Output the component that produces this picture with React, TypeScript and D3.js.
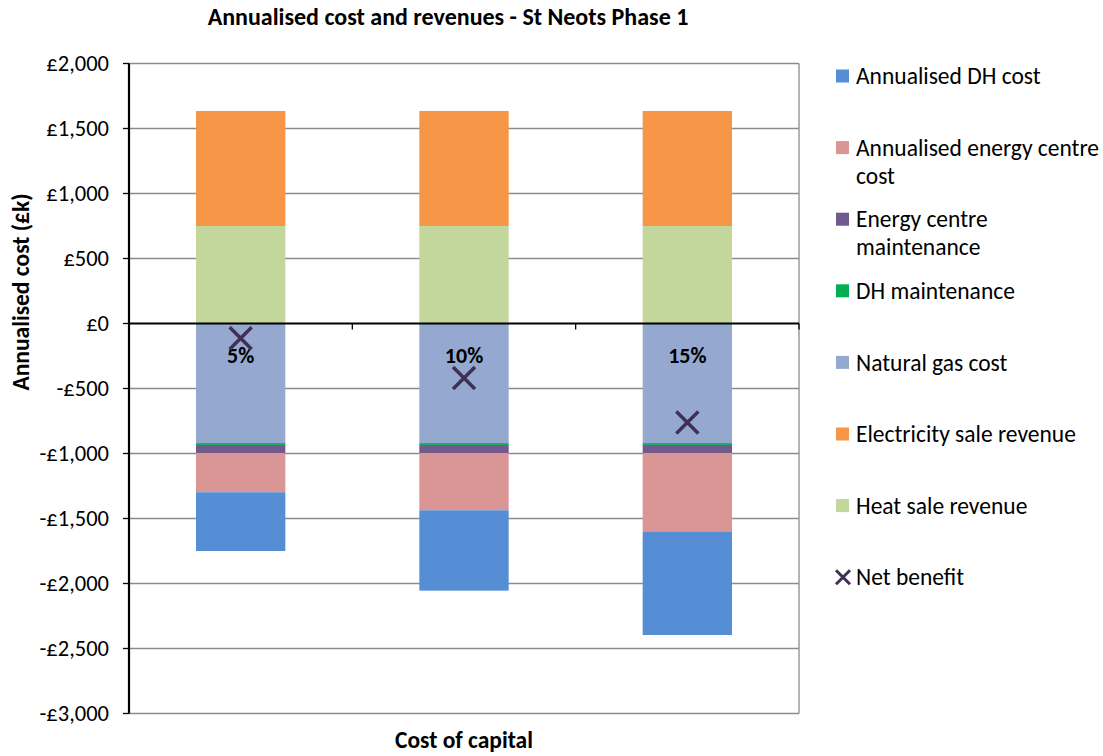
import React from "react";
import * as d3 from "d3";

const categories = ["5%", "10%", "15%"];
const annualisedDHCost = [-452, -618, -797];
const annualisedECCost = [-302, -441, -603];
const ecMaintenance = [-62, -62, -62];
const dhMaintenance = [-14, -14, -14];
const naturalGasCost = [-920, -920, -920];
const electricityRevenue = [885, 885, 885];
const heatRevenue = [750, 750, 750];
const netBenefit = [-113, -420, -761];
const yTicks = [2000, 1500, 1000, 500, 0, -500, -1000, -1500, -2000, -2500, -3000];

const negSeries = [
  { name: "Natural gas cost", values: naturalGasCost, color: "#95A9D0" },
  { name: "DH maintenance", values: dhMaintenance, color: "#00B050" },
  { name: "Energy centre maintenance", values: ecMaintenance, color: "#71588F" },
  { name: "Annualised energy centre cost", values: annualisedECCost, color: "#D99694" },
  { name: "Annualised DH cost", values: annualisedDHCost, color: "#558ED5" },
];
const posSeries = [
  { name: "Heat sale revenue", values: heatRevenue, color: "#C3D69B" },
  { name: "Electricity sale revenue", values: electricityRevenue, color: "#F79646" },
];

const legendItems = [
  { lines: ["Annualised DH cost"], color: "#558ED5" },
  { lines: ["Annualised energy centre", "cost"], color: "#D99694" },
  { lines: ["Energy centre", "maintenance"], color: "#71588F" },
  { lines: ["DH maintenance"], color: "#00B050" },
  { lines: ["Natural gas cost"], color: "#95A9D0" },
  { lines: ["Electricity sale revenue"], color: "#F79646" },
  { lines: ["Heat sale revenue"], color: "#C3D69B" },
  { lines: ["Net benefit"], color: null },
];

const FONT = "Carlito, Calibri, 'Open Sans', sans-serif";

export default function App() {
  const W = 1103, H = 756;
  const left = 129, right = 799, top = 63.5, bottom = 713.5;
  const y = d3.scaleLinear().domain([-3000, 2000]).range([bottom, top]);
  const x = d3.scaleBand().domain(categories).range([left, right]).paddingInner(0.6).paddingOuter(0.3);
  const xc = d3.scaleBand().domain(categories).range([left, right]);
  const y0 = y(0);

  const rects: any[] = [];
  categories.forEach((c, i) => {
    let acc = 0;
    negSeries.forEach((s) => {
      const v = s.values[i];
      const a = acc, b = acc + v;
      rects.push(<rect key={s.name + c} x={x(c)} width={x.bandwidth()} y={y(a)} height={y(b) - y(a)} fill={s.color} />);
      acc = b;
    });
    acc = 0;
    posSeries.forEach((s) => {
      const v = s.values[i];
      const a = acc, b = acc + v;
      rects.push(<rect key={s.name + c} x={x(c)} width={x.bandwidth()} y={y(b)} height={y(a) - y(b)} fill={s.color} />);
      acc = b;
    });
  });

  const cross = (cx: number, cy: number, s: number, w: number, key: string) => (
    <g key={key} stroke="#3F3054" strokeWidth={w} strokeLinecap="butt">
      <line x1={cx - s} y1={cy - s} x2={cx + s} y2={cy + s} />
      <line x1={cx - s} y1={cy + s} x2={cx + s} y2={cy - s} />
    </g>
  );

  return (
    <svg width={W} height={H} style={{ position: "absolute", left: 0, top: 0, background: "#fff" }} fontFamily={FONT}>
      <text x={448} y={25} textAnchor="middle" fontSize={24} fontWeight="bold" fill="#000">
        Annualised cost and revenues - St Neots Phase 1
      </text>
      {yTicks.map((t) => (
        <g key={t}>
          {t !== 0 && <line x1={left} x2={right} y1={y(t)} y2={y(t)} stroke="#8C8C8C" strokeWidth={1.3} />}
          <line x1={left - 6} x2={left} y1={y(t)} y2={y(t)} stroke="#000" strokeWidth={1.3} />
          <text x={109} y={y(t)} dy="0.35em" textAnchor="end" fontSize={22.5} fill="#000">
            {(t < 0 ? "-£" : "£") + d3.format(",")(Math.abs(t))}
          </text>
        </g>
      ))}
      <line x1={right} x2={right} y1={top} y2={bottom} stroke="#8C8C8C" strokeWidth={1.3} />
      {rects}
      <line x1={left} x2={right} y1={y0} y2={y0} stroke="#000" strokeWidth={2.2} />
      {categories.map((c) => (
        <line key={"ct" + c} x1={xc(c)! + xc.bandwidth()} x2={xc(c)! + xc.bandwidth()} y1={y0} y2={y0 + 6} stroke="#000" strokeWidth={1.3} />
      ))}
      <line x1={left} x2={left} y1={top} y2={bottom} stroke="#000" strokeWidth={2.2} />
      {categories.map((c) => (
        <text key={"lbl" + c} x={x(c)! + x.bandwidth() / 2} y={y0 + 32} dy="0.35em" textAnchor="middle" fontSize={22} fontWeight="bold" fill="#000">
          {c}
        </text>
      ))}
      {categories.map((c, i) => cross(x(c)! + x.bandwidth() / 2, y(netBenefit[i]), 11, 3.5, "nb" + c))}
      <text transform={`translate(29,${292}) rotate(-90)`} textAnchor="middle" fontSize={23.5} fontWeight="bold" fill="#000">
        Annualised cost (£k)
      </text>
      <text x={464} y={748} textAnchor="middle" fontSize={23.5} fontWeight="bold" fill="#000">
        Cost of capital
      </text>
      {legendItems.map((it, i) => {
        const ly = 76 + i * 71.6;
        return (
          <g key={"lg" + i}>
            {it.color ? (
              <rect x={836} y={ly - 6.5} width={13} height={13} fill={it.color} />
            ) : (
              cross(843, ly, 7, 3, "lgx")
            )}
            {it.lines.map((ln, j) => (
              <text key={j} x={856} y={ly + j * 28} dy="0.35em" fontSize={23.5} fill="#000">
                {ln}
              </text>
            ))}
          </g>
        );
      })}
    </svg>
  );
}
